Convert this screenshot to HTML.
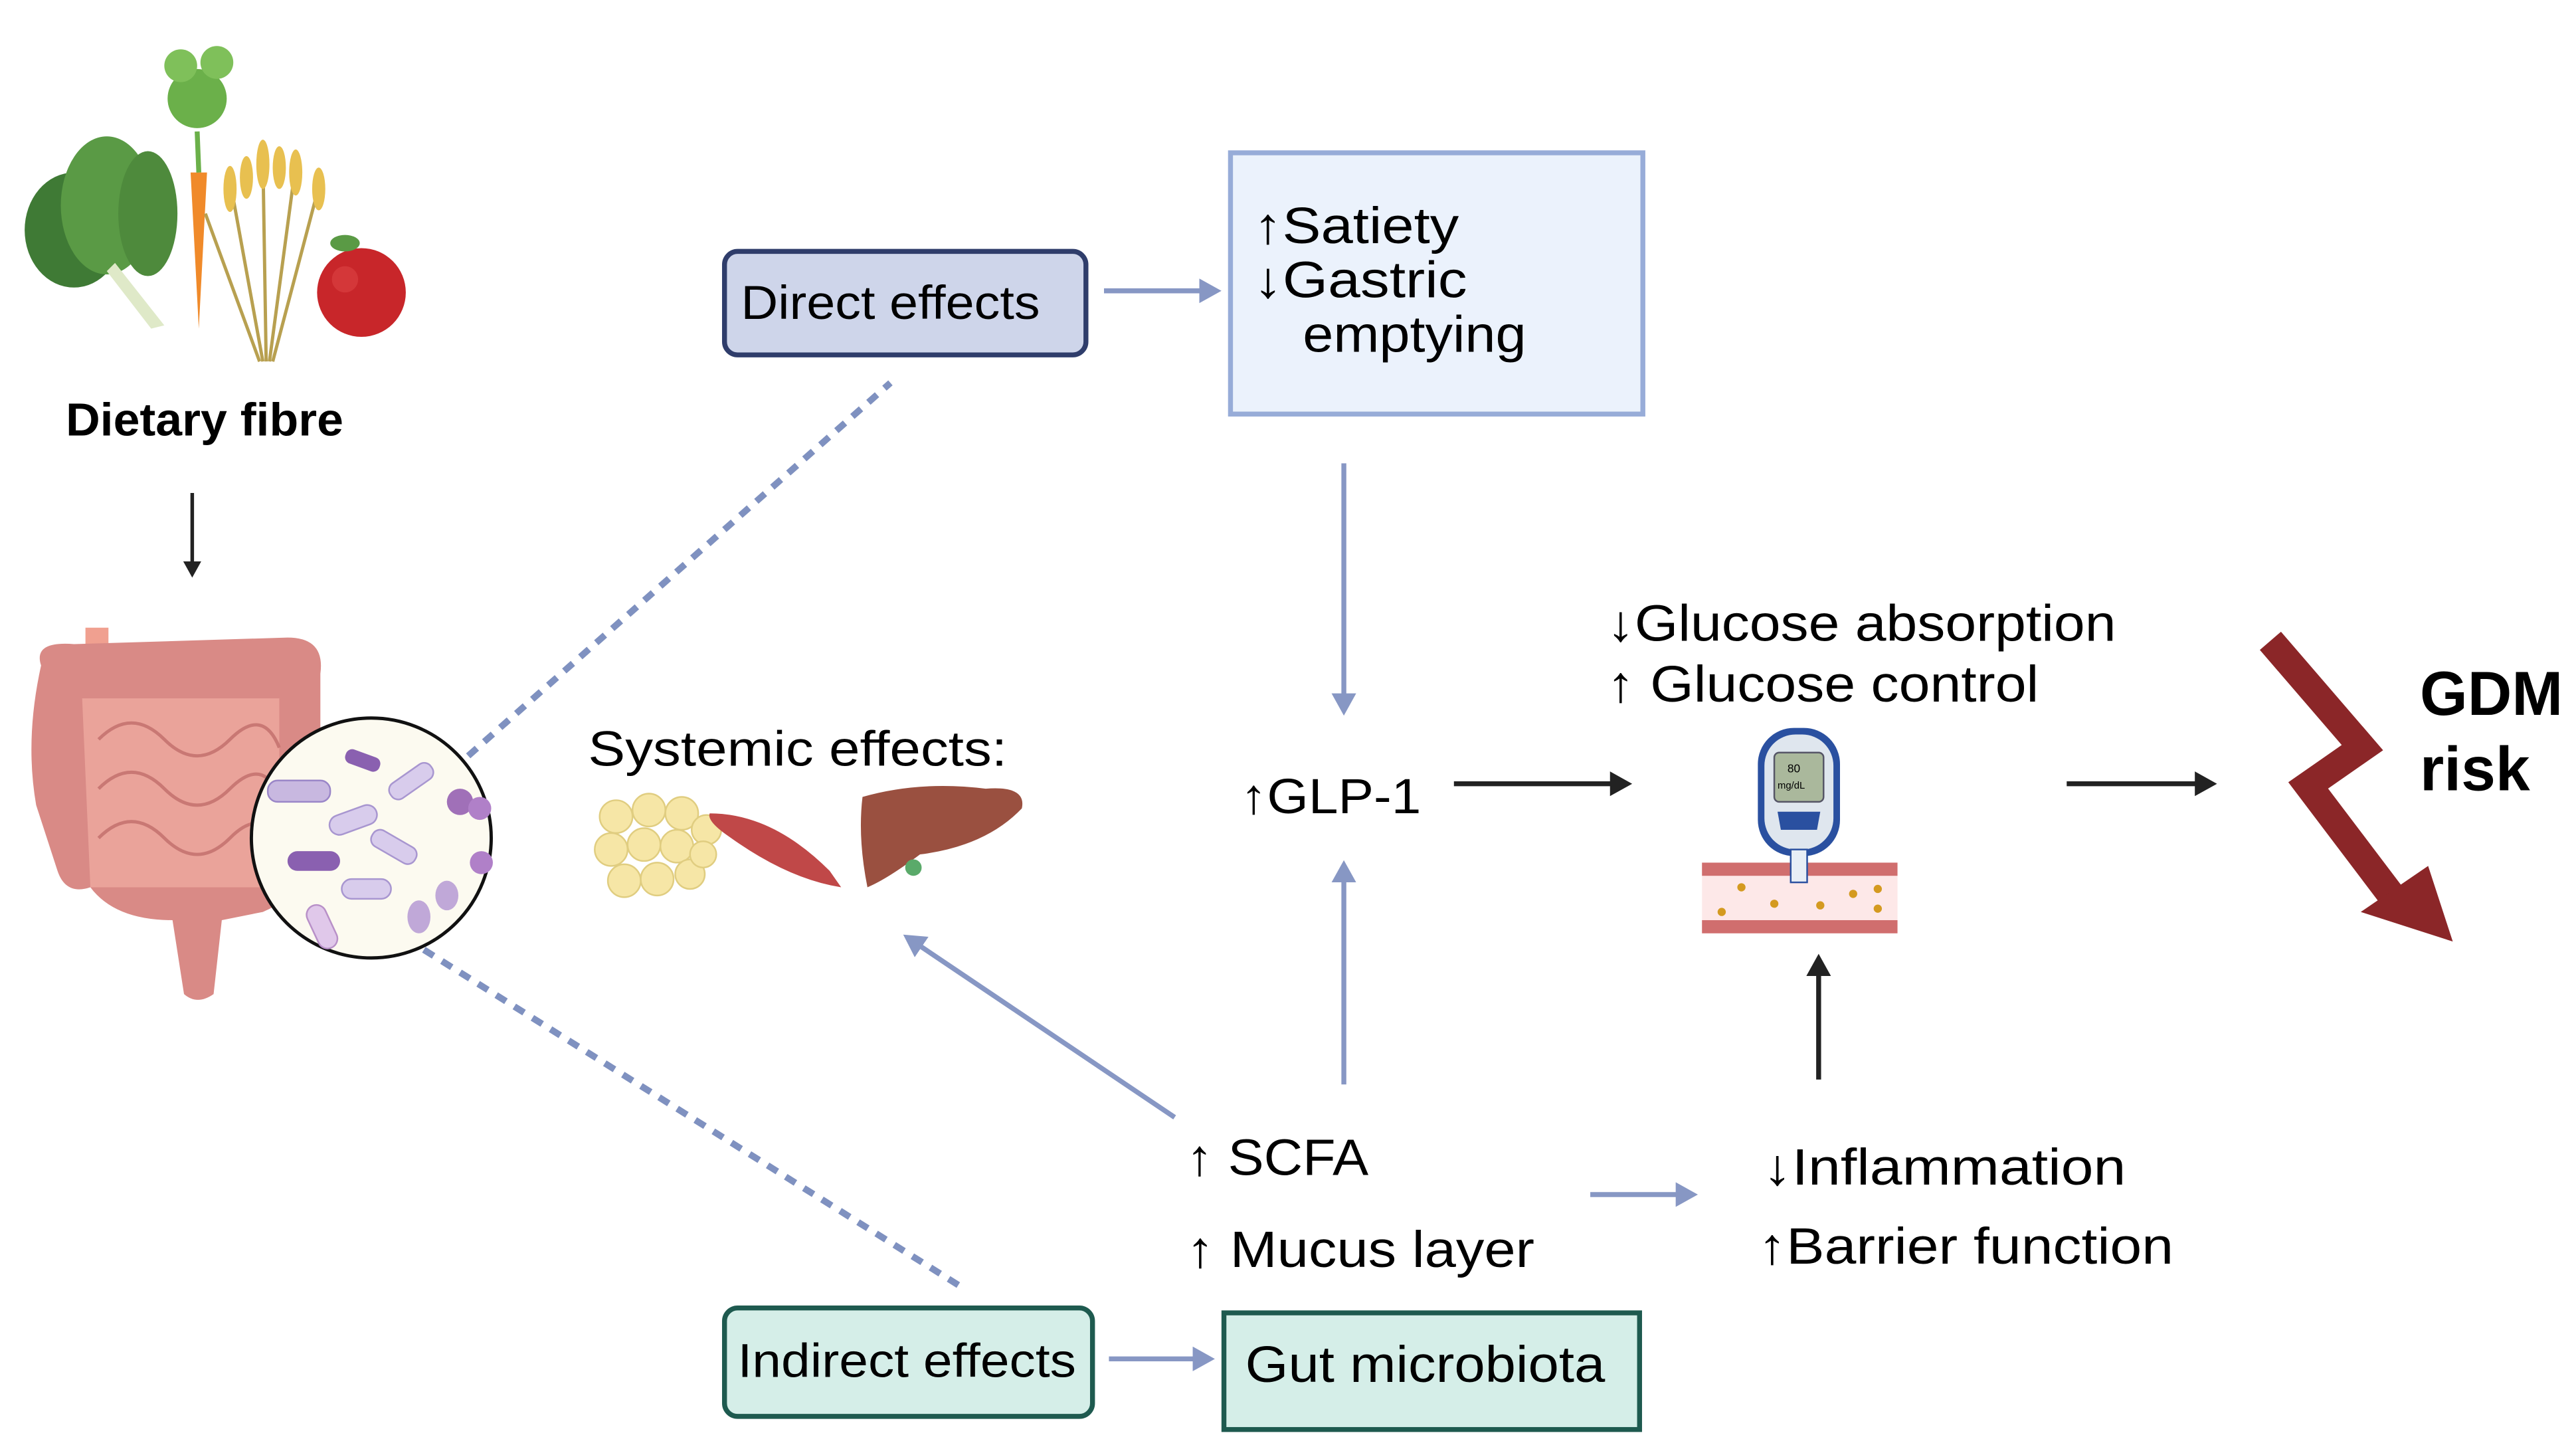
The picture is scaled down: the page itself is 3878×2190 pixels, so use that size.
<!DOCTYPE html>
<html><head><meta charset="utf-8"><style>
html,body{margin:0;padding:0;background:#fff;}
svg{display:block;}
text{font-family:"Liberation Sans",sans-serif;fill:#000;}
</style></head><body>
<svg width="3878" height="2190" viewBox="0 0 1568 885.5" xmlns="http://www.w3.org/2000/svg">
<defs>
<marker id="ab" markerWidth="5" markerHeight="5" refX="2" refY="2.5" orient="auto" markerUnits="strokeWidth"><path d="M0,0 L4.5,2.5 L0,5 Z" fill="#8797c4"/></marker>
<marker id="ak" markerWidth="5" markerHeight="5" refX="2" refY="2.5" orient="auto" markerUnits="strokeWidth"><path d="M0,0 L4.5,2.5 L0,5 Z" fill="#222"/></marker>
</defs>
<rect width="1568" height="885.5" fill="#fff"/>

<!-- Food -->
<g>
<ellipse cx="45" cy="140" rx="30" ry="35" fill="#3f7a35"/>
<ellipse cx="65" cy="125" rx="28" ry="42" fill="#5a9a45"/>
<ellipse cx="90" cy="130" rx="18" ry="38" fill="#4e8a3c"/>
<path d="M70,160 L100,198 L92,200 L65,165Z" fill="#dfe9c8"/>
<path d="M116,105 L126,105 L121,200Z" fill="#f08a2a"/>
<circle cx="120" cy="60" r="18" fill="#6bb04a"/>
<circle cx="110" cy="40" r="10" fill="#7fc05a"/>
<circle cx="132" cy="38" r="10" fill="#7fc05a"/>
<path d="M120,80 L121,105" stroke="#6bb04a" stroke-width="3"/>
<g stroke="#b8a050" stroke-width="2" fill="none"><path d="M160,220 L140,110"/><path d="M162,220 L160,95"/><path d="M164,220 L180,100"/><path d="M166,220 L195,110"/><path d="M158,220 L125,130"/></g>
<g fill="#e8c050"><ellipse cx="140" cy="115" rx="4" ry="14"/><ellipse cx="160" cy="100" rx="4" ry="15"/><ellipse cx="180" cy="105" rx="4" ry="14"/><ellipse cx="194" cy="115" rx="4" ry="13"/><ellipse cx="150" cy="108" rx="4" ry="13"/><ellipse cx="170" cy="102" rx="4" ry="13"/></g>
<circle cx="220" cy="178" r="27" fill="#c8262a"/>
<circle cx="210" cy="170" r="8" fill="#e04848" opacity="0.5"/>
<ellipse cx="210" cy="148" rx="9" ry="5" fill="#5a9a45"/>
</g>
<text x="40" y="265" font-size="28" font-weight="bold" textLength="169" lengthAdjust="spacingAndGlyphs">Dietary fibre</text>
<line x1="117" y1="300" x2="117" y2="346" stroke="#222" stroke-width="2.2" marker-end="url(#ak)"/>

<!-- Intestine -->
<g>
<rect x="52" y="382" width="14" height="30" fill="#f0a090"/>
<path d="M25,405 Q20,390 45,392 L175,388 Q198,388 195,410 L195,500 Q195,540 160,555 L135,560 L130,605 Q120,612 112,605 L105,560 Q70,560 55,540 Q40,545 35,530 L22,490 Q15,450 25,405Z" fill="#d98a86"/>
<path d="M50,425 L170,425 L170,540 L55,540Z" fill="#eaa39a"/>
<g fill="none" stroke="#c97874" stroke-width="2"><path d="M60,450 Q80,430 100,450 T140,450 T170,455"/><path d="M60,480 Q80,460 100,480 T140,480 T170,485"/><path d="M60,510 Q80,490 100,510 T140,510 T170,515"/></g>
</g>
<circle cx="226" cy="510" r="73" fill="#fcfaf0" stroke="#111" stroke-width="2"/>
<g>
<rect x="163" y="475" width="38" height="13" rx="6" fill="#c8b8e0" stroke="#9a86c8"/>
<rect x="200" y="493" width="30" height="12" rx="6" fill="#d8ccec" stroke="#a896d0" transform="rotate(-20 215 499)"/>
<rect x="175" y="518" width="32" height="12" rx="6" fill="#8a60b0"/>
<rect x="208" y="535" width="30" height="12" rx="6" fill="#d8ccec" stroke="#a896d0"/>
<rect x="225" y="510" width="30" height="11" rx="5" fill="#d8ccec" stroke="#a896d0" transform="rotate(30 240 515)"/>
<rect x="235" y="470" width="30" height="11" rx="5" fill="#d8ccec" stroke="#a896d0" transform="rotate(-35 250 475)"/>
<rect x="210" y="458" width="22" height="9" rx="4" fill="#8a60b0" transform="rotate(20 220 462)"/>
<rect x="190" y="550" width="12" height="28" rx="6" fill="#e0c8ea" stroke="#b890c8" transform="rotate(-25 196 564)"/>
<circle cx="280" cy="488" r="8" fill="#a070b8"/><circle cx="292" cy="492" r="7" fill="#b080c8"/>
<ellipse cx="255" cy="558" rx="7" ry="10" fill="#c0a8d8"/><ellipse cx="272" cy="545" rx="7" ry="9" fill="#c0a8d8"/>
<circle cx="293" cy="525" r="7" fill="#b080c8"/>
</g>
<line x1="285" y1="460" x2="542" y2="233" stroke="#7f91c0" stroke-width="4" stroke-dasharray="7,6"/>
<line x1="258" y1="578" x2="588" y2="785" stroke="#7f91c0" stroke-width="4" stroke-dasharray="7,6"/>

<!-- Systemic -->
<text x="358" y="466" font-size="30" textLength="255" lengthAdjust="spacingAndGlyphs">Systemic effects:</text>
<g fill="#f6e6a6" stroke="#e0cd80" stroke-width="1">
<circle cx="375" cy="497" r="10"/><circle cx="395" cy="493" r="10"/><circle cx="415" cy="495" r="10"/><circle cx="372" cy="517" r="10"/><circle cx="392" cy="514" r="10"/><circle cx="412" cy="515" r="10"/><circle cx="430" cy="505" r="9"/><circle cx="380" cy="536" r="10"/><circle cx="400" cy="535" r="10"/><circle cx="420" cy="532" r="9"/><circle cx="428" cy="520" r="8"/>
</g>
<path d="M432,495 Q470,495 505,530 L512,540 Q480,535 445,510 Q430,500 432,495Z" fill="#c04848"/>
<path d="M525,485 Q560,475 600,480 Q625,478 622,492 Q600,515 560,520 Q540,535 528,540 Q522,510 525,485Z" fill="#9a5040"/>
<circle cx="556" cy="528" r="5" fill="#5aaa6a"/>
<line x1="715" y1="680" x2="556" y2="573" stroke="#8797c4" stroke-width="3" marker-end="url(#ab)"/>

<!-- Direct effects -->
<rect x="441" y="153" width="220" height="63" rx="8" fill="#ced5ea" stroke="#2f3d6b" stroke-width="3"/>
<text x="451" y="194" font-size="29" textLength="182" lengthAdjust="spacingAndGlyphs">Direct effects</text>
<line x1="672" y1="177" x2="736" y2="177" stroke="#8797c4" stroke-width="3" marker-end="url(#ab)"/>
<rect x="749" y="93" width="251" height="159" fill="#ebf2fc" stroke="#97acd8" stroke-width="3"/>
<text x="763" y="148" font-size="31" textLength="125" lengthAdjust="spacingAndGlyphs">↑Satiety</text>
<text x="763" y="181" font-size="31" textLength="130" lengthAdjust="spacingAndGlyphs">↓Gastric</text>
<text x="793" y="214" font-size="31" textLength="136" lengthAdjust="spacingAndGlyphs">emptying</text>
<line x1="818" y1="282" x2="818" y2="428" stroke="#8797c4" stroke-width="3" marker-end="url(#ab)"/>

<text x="755" y="495" font-size="30" textLength="110" lengthAdjust="spacingAndGlyphs">↑GLP-1</text>
<line x1="885" y1="477" x2="986" y2="477" stroke="#222" stroke-width="3" marker-end="url(#ak)"/>
<line x1="818" y1="660" x2="818" y2="531" stroke="#8797c4" stroke-width="3" marker-end="url(#ab)"/>

<text x="978" y="390" font-size="31" textLength="310" lengthAdjust="spacingAndGlyphs">↓Glucose absorption</text>
<text x="978" y="427" font-size="31" textLength="263" lengthAdjust="spacingAndGlyphs">↑ Glucose control</text>

<!-- meter -->
<rect x="1036" y="525" width="119" height="43" fill="#fde8e8"/>
<rect x="1036" y="525" width="119" height="8" fill="#d06e6e"/>
<rect x="1036" y="560" width="119" height="8" fill="#d06e6e"/>
<g fill="#d49a20"><circle cx="1048" cy="555" r="2.5"/><circle cx="1060" cy="540" r="2.5"/><circle cx="1080" cy="550" r="2.5"/><circle cx="1108" cy="551" r="2.5"/><circle cx="1128" cy="544" r="2.5"/><circle cx="1143" cy="541" r="2.5"/><circle cx="1143" cy="553" r="2.5"/></g>
<rect x="1070" y="443" width="50" height="78" rx="22" fill="#2a50a0"/>
<rect x="1074" y="447" width="42" height="70" rx="19" fill="#dfe6ee"/>
<rect x="1080" y="458" width="30" height="30" rx="3" fill="#aab89c" stroke="#556"/>
<text x="1088" y="470" font-size="7">80</text><text x="1082" y="480" font-size="6">mg/dL</text>
<path d="M1082,494 L1108,494 L1106,505 L1084,505Z" fill="#2a50a0"/>
<rect x="1090" y="517" width="10" height="20" fill="#e8eef6" stroke="#2a50a0"/>

<line x1="1258" y1="477" x2="1342" y2="477" stroke="#222" stroke-width="3" marker-end="url(#ak)"/>
<line x1="1107" y1="657" x2="1107" y2="588" stroke="#222" stroke-width="3" marker-end="url(#ak)"/>

<!-- GDM arrow -->
<polyline points="1382,390 1438,455 1405,478 1458,548" fill="none" stroke="#8b2628" stroke-width="17" stroke-linejoin="miter"/>
<path d="M1437,555 L1478,527 L1493,573Z" fill="#8b2628"/>
<text x="1473" y="435" font-size="38" font-weight="bold" textLength="87" lengthAdjust="spacingAndGlyphs">GDM</text>
<text x="1473" y="481" font-size="38" font-weight="bold" textLength="67" lengthAdjust="spacingAndGlyphs">risk</text>

<!-- bottom -->
<text x="722" y="715" font-size="31" textLength="111" lengthAdjust="spacingAndGlyphs">↑ SCFA</text>
<text x="722" y="771" font-size="31" textLength="212" lengthAdjust="spacingAndGlyphs">↑ Mucus layer</text>
<line x1="968" y1="727" x2="1026" y2="727" stroke="#8797c4" stroke-width="3" marker-end="url(#ab)"/>
<text x="1073" y="721" font-size="31" textLength="221" lengthAdjust="spacingAndGlyphs">↓Inflammation</text>
<text x="1070" y="769" font-size="31" textLength="253" lengthAdjust="spacingAndGlyphs">↑Barrier function</text>

<rect x="441" y="796" width="224" height="66" rx="8" fill="#d5eee8" stroke="#1e5a4f" stroke-width="3"/>
<text x="449" y="838" font-size="29" textLength="206" lengthAdjust="spacingAndGlyphs">Indirect effects</text>
<line x1="675" y1="827" x2="732" y2="827" stroke="#8797c4" stroke-width="3" marker-end="url(#ab)"/>
<rect x="745" y="799" width="253" height="71" fill="#d5eee8" stroke="#1e5a4f" stroke-width="3"/>
<text x="758" y="841" font-size="31" textLength="219" lengthAdjust="spacingAndGlyphs">Gut microbiota</text>
</svg>
</body></html>
